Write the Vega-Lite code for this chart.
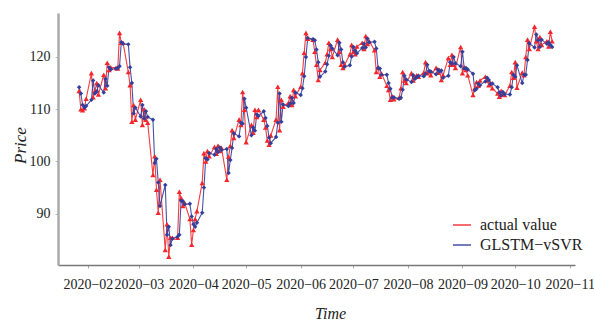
{
"$schema":"https://vega.github.io/schema/vega-lite/v6.json",
"width":517,"height":252,"autosize":"none",
"padding":{"left":58,"top":13,"right":19,"bottom":57},
"background":"white",
"config":{"view":{"stroke":null},"font":"Liberation Serif"},
"data":{"values":[
{"d":"2020-01-27","a":113.5,"p":114.2},{"d":"2020-01-28","a":110.0,"p":113.0},{"d":"2020-01-29","a":109.8,"p":110.8},{"d":"2020-01-30","a":110.2,"p":110.3},{"d":"2020-01-31","a":112.0,"p":110.6},
{"d":"2020-02-03","a":116.9,"p":111.8},{"d":"2020-02-04","a":112.3,"p":115.5},{"d":"2020-02-05","a":113.5,"p":113.0},{"d":"2020-02-06","a":115.0,"p":113.4},{"d":"2020-02-07","a":112.8,"p":114.6},
{"d":"2020-02-10","a":116.6,"p":113.2},{"d":"2020-02-11","a":114.0,"p":115.8},{"d":"2020-02-12","a":118.9,"p":114.5},{"d":"2020-02-13","a":117.5,"p":118.0},{"d":"2020-02-14","a":118.0,"p":117.6},
{"d":"2020-02-17","a":117.9,"p":117.8},{"d":"2020-02-18","a":117.8,"p":117.9},{"d":"2020-02-19","a":124.6,"p":118.2},{"d":"2020-02-20","a":122.7,"p":122.8},{"d":"2020-02-21","a":122.7,"p":122.5},
{"d":"2020-02-24","a":117.1,"p":122.4},{"d":"2020-02-25","a":114.6,"p":118.0},{"d":"2020-02-26","a":107.6,"p":115.0},{"d":"2020-02-27","a":110.8,"p":109.2},{"d":"2020-02-28","a":108.0,"p":110.3},
{"d":"2020-03-02","a":111.8,"p":108.6},{"d":"2020-03-03","a":107.0,"p":110.8},{"d":"2020-03-04","a":110.0,"p":108.2},{"d":"2020-03-05","a":108.0,"p":109.6},{"d":"2020-03-06","a":107.4,"p":108.5},
{"d":"2020-03-09","a":97.4,"p":108.0},{"d":"2020-03-10","a":101.0,"p":99.7},{"d":"2020-03-11","a":94.6,"p":100.5},{"d":"2020-03-12","a":90.2,"p":96.0},{"d":"2020-03-13","a":96.5,"p":91.5},
{"d":"2020-03-16","a":83.1,"p":95.5},{"d":"2020-03-17","a":88.0,"p":86.0},{"d":"2020-03-18","a":81.8,"p":87.5},{"d":"2020-03-19","a":85.4,"p":84.0},{"d":"2020-03-20","a":85.4,"p":85.2},
{"d":"2020-03-23","a":85.4,"p":85.6},{"d":"2020-03-24","a":94.2,"p":86.0},{"d":"2020-03-25","a":93.0,"p":92.5},{"d":"2020-03-26","a":91.5,"p":92.4},{"d":"2020-03-27","a":92.1,"p":91.8},
{"d":"2020-03-30","a":89.0,"p":91.9},{"d":"2020-03-31","a":84.1,"p":89.5},{"d":"2020-04-01","a":86.9,"p":88.0},{"d":"2020-04-02","a":89.0,"p":87.5},{"d":"2020-04-03","a":90.5,"p":88.3},
{"d":"2020-04-06","a":95.9,"p":90.2},{"d":"2020-04-07","a":101.6,"p":95.0},{"d":"2020-04-08","a":100.0,"p":100.6},{"d":"2020-04-09","a":102.0,"p":100.4},{"d":"2020-04-10","a":101.0,"p":101.6},
{"d":"2020-04-13","a":102.8,"p":101.3},{"d":"2020-04-14","a":101.5,"p":102.4},{"d":"2020-04-15","a":103.0,"p":101.8},{"d":"2020-04-16","a":102.0,"p":102.7},{"d":"2020-04-17","a":102.6,"p":102.2},
{"d":"2020-04-20","a":96.5,"p":102.4},{"d":"2020-04-21","a":100.9,"p":97.8},{"d":"2020-04-22","a":103.0,"p":100.3},{"d":"2020-04-23","a":106.0,"p":102.6},{"d":"2020-04-24","a":104.5,"p":105.4},
{"d":"2020-04-27","a":108.0,"p":104.8},{"d":"2020-04-28","a":107.0,"p":107.4},{"d":"2020-04-29","a":113.3,"p":107.2},{"d":"2020-04-30","a":109.9,"p":112.0},{"d":"2020-05-01","a":103.7,"p":110.3},
{"d":"2020-05-04","a":107.0,"p":105.0},{"d":"2020-05-05","a":105.5,"p":106.5},{"d":"2020-05-06","a":109.9,"p":105.9},{"d":"2020-05-07","a":108.5,"p":109.0},{"d":"2020-05-08","a":109.9,"p":108.7},
{"d":"2020-05-11","a":108.0,"p":109.6},{"d":"2020-05-12","a":106.5,"p":108.3},{"d":"2020-05-13","a":104.0,"p":106.8},{"d":"2020-05-14","a":103.2,"p":104.6},{"d":"2020-05-15","a":105.0,"p":103.5},
{"d":"2020-05-18","a":108.0,"p":104.7},{"d":"2020-05-19","a":114.3,"p":107.4},{"d":"2020-05-20","a":106.0,"p":113.0},{"d":"2020-05-21","a":111.8,"p":107.6},{"d":"2020-05-22","a":110.5,"p":110.9},
{"d":"2020-05-25","a":111.2,"p":110.6},{"d":"2020-05-26","a":112.5,"p":111.1},{"d":"2020-05-27","a":110.8,"p":112.2},{"d":"2020-05-28","a":113.7,"p":111.2},{"d":"2020-05-29","a":112.5,"p":113.2},
{"d":"2020-06-01","a":114.3,"p":112.7},{"d":"2020-06-02","a":116.9,"p":114.0},{"d":"2020-06-03","a":120.8,"p":116.3},{"d":"2020-06-04","a":124.6,"p":120.0},{"d":"2020-06-05","a":123.5,"p":123.6},
{"d":"2020-06-08","a":123.3,"p":123.4},{"d":"2020-06-09","a":121.0,"p":123.2},{"d":"2020-06-10","a":118.5,"p":121.4},{"d":"2020-06-11","a":115.6,"p":119.0},{"d":"2020-06-12","a":117.5,"p":116.2},
{"d":"2020-06-15","a":118.9,"p":117.2},{"d":"2020-06-16","a":120.5,"p":118.6},{"d":"2020-06-17","a":122.7,"p":120.2},{"d":"2020-06-18","a":121.5,"p":122.2},{"d":"2020-06-19","a":120.0,"p":121.6},
{"d":"2020-06-22","a":123.3,"p":120.3},{"d":"2020-06-23","a":121.0,"p":122.7},{"d":"2020-06-24","a":118.5,"p":121.4},{"d":"2020-06-25","a":117.9,"p":119.0},{"d":"2020-06-26","a":118.5,"p":118.1},
{"d":"2020-06-29","a":120.5,"p":118.4},{"d":"2020-06-30","a":122.3,"p":120.1},{"d":"2020-07-01","a":121.0,"p":121.9},{"d":"2020-07-02","a":120.5,"p":121.2},{"d":"2020-07-03","a":122.0,"p":120.7},
{"d":"2020-07-06","a":122.7,"p":121.7},{"d":"2020-07-07","a":121.5,"p":122.5},{"d":"2020-07-08","a":124.0,"p":121.8},{"d":"2020-07-09","a":122.5,"p":123.5},{"d":"2020-07-10","a":123.0,"p":122.8},
{"d":"2020-07-13","a":121.3,"p":122.9},{"d":"2020-07-14","a":117.1,"p":121.6},{"d":"2020-07-15","a":118.0,"p":117.9},{"d":"2020-07-16","a":116.2,"p":117.8},{"d":"2020-07-17","a":116.8,"p":116.6},
{"d":"2020-07-20","a":114.5,"p":116.6},{"d":"2020-07-21","a":113.7,"p":115.0},{"d":"2020-07-22","a":111.8,"p":113.9},{"d":"2020-07-23","a":112.5,"p":112.2},{"d":"2020-07-24","a":111.9,"p":112.3},
{"d":"2020-07-27","a":112.2,"p":112.0},{"d":"2020-07-28","a":114.0,"p":112.2},{"d":"2020-07-29","a":117.1,"p":113.7},{"d":"2020-07-30","a":115.5,"p":116.4},{"d":"2020-07-31","a":115.0,"p":115.7},
{"d":"2020-08-03","a":116.9,"p":115.2},{"d":"2020-08-04","a":115.5,"p":116.5},{"d":"2020-08-05","a":116.2,"p":115.8},{"d":"2020-08-06","a":116.5,"p":116.1},{"d":"2020-08-07","a":116.2,"p":116.4},
{"d":"2020-08-10","a":117.0,"p":116.3},{"d":"2020-08-11","a":119.0,"p":116.8},{"d":"2020-08-12","a":116.9,"p":118.5},{"d":"2020-08-13","a":117.2,"p":117.3},{"d":"2020-08-14","a":116.5,"p":117.2},
{"d":"2020-08-17","a":117.9,"p":116.7},{"d":"2020-08-18","a":117.0,"p":117.6},{"d":"2020-08-19","a":117.5,"p":117.2},{"d":"2020-08-20","a":115.6,"p":117.4},{"d":"2020-08-21","a":116.5,"p":116.0},
{"d":"2020-08-24","a":119.8,"p":116.4},{"d":"2020-08-25","a":118.5,"p":119.0},{"d":"2020-08-26","a":120.4,"p":118.7},{"d":"2020-08-27","a":118.5,"p":120.0},{"d":"2020-08-28","a":117.9,"p":118.8},
{"d":"2020-08-31","a":121.9,"p":118.2},{"d":"2020-09-01","a":116.9,"p":121.0},{"d":"2020-09-02","a":118.0,"p":117.8},{"d":"2020-09-03","a":117.5,"p":117.9},{"d":"2020-09-04","a":116.5,"p":117.6},
{"d":"2020-09-07","a":112.7,"p":116.8},{"d":"2020-09-08","a":114.0,"p":113.6},{"d":"2020-09-09","a":115.2,"p":113.9},{"d":"2020-09-10","a":114.5,"p":114.9},{"d":"2020-09-11","a":115.5,"p":114.6},
{"d":"2020-09-14","a":116.2,"p":115.3},{"d":"2020-09-15","a":115.5,"p":116.0},{"d":"2020-09-16","a":114.6,"p":115.6},{"d":"2020-09-17","a":115.0,"p":114.8},{"d":"2020-09-18","a":114.0,"p":114.9},
{"d":"2020-09-21","a":113.0,"p":114.2},{"d":"2020-09-22","a":112.4,"p":113.2},{"d":"2020-09-23","a":113.5,"p":112.6},{"d":"2020-09-24","a":112.8,"p":113.3},{"d":"2020-09-25","a":112.7,"p":112.9},
{"d":"2020-09-28","a":114.5,"p":112.8},{"d":"2020-09-29","a":117.1,"p":114.2},{"d":"2020-09-30","a":116.0,"p":116.6},{"d":"2020-10-01","a":119.0,"p":116.2},{"d":"2020-10-02","a":114.1,"p":118.4},
{"d":"2020-10-05","a":117.0,"p":115.0},{"d":"2020-10-06","a":116.5,"p":116.6},{"d":"2020-10-07","a":120.0,"p":116.6},{"d":"2020-10-08","a":123.3,"p":119.4},{"d":"2020-10-09","a":121.5,"p":122.6},
{"d":"2020-10-12","a":125.8,"p":121.8},{"d":"2020-10-13","a":123.0,"p":124.3},{"d":"2020-10-14","a":121.5,"p":123.2},{"d":"2020-10-15","a":123.8,"p":121.9},{"d":"2020-10-16","a":122.3,"p":123.3},
{"d":"2020-10-19","a":123.0,"p":122.5},{"d":"2020-10-20","a":122.0,"p":122.8},{"d":"2020-10-21","a":124.8,"p":122.3},{"d":"2020-10-22","a":123.0,"p":121.9}
]},
"transform":[{"fold":["a","p"],"as":["series","value"]}],
"encoding":{
"x":{"field":"d","type":"temporal","scale":{"domain":["2020-01-15","2020-11-04"]},
"axis":{"title":"Time","format":"%Y\u2212%m","tickCount":{"interval":"month","step":1},"labelOverlap":false,"grid":false,
"labelFont":"Liberation Serif","labelFontSize":14,"labelColor":"#222","labelPadding":9,"tickSize":3,"tickColor":"#aaa",
"domainColor":"#777","domainWidth":1.5,
"titleFont":"Liberation Serif","titleFontStyle":"italic","titleFontWeight":"normal","titleFontSize":16,"titleColor":"#222","titleX":272,"titleY":53,"titleBaseline":"alphabetic"}},
"y":{"field":"value","type":"quantitative","scale":{"domain":[80.2,128.4],"nice":false,"zero":false},
"axis":{"title":"Price","values":[90,100,110,120],"grid":false,
"labelFont":"Liberation Serif","labelFontSize":14,"labelColor":"#222","labelPadding":5,"tickSize":3,"tickColor":"#bbb",
"domainColor":"#aaa","domainWidth":2.5,
"titleFont":"Liberation Serif","titleFontStyle":"italic","titleFontWeight":"normal","titleFontSize":17,"titleColor":"#222","titleX":-33,"titleY":132,"titleBaseline":"alphabetic","titleAngle":-90}},
"color":{"field":"series","type":"nominal","scale":{"domain":["a","p"],"range":["#f2262b","#323f9c"]},
"legend":{"title":null,"orient":"none","legendX":394,"legendY":202,"padding":0,"symbolSize":324,"rowPadding":2,"labelOffset":8,
"labelFont":"Liberation Serif","labelFontSize":16,"labelColor":"#222","labelExpr":"datum.value === 'a' ? 'actual value' : 'GLSTM\u2212vSVR'",
"encode":{"symbols":{"update":{
"shape":{"signal":"datum.value === 'a' ? 'M-1,0H1M0,-0.45L0.38,0.22H-0.38Z' : 'M-1,0H1M0,-0.36L0.3,0L0,0.36L-0.3,0Z'"},
"fill":{"signal":"datum.value === 'a' ? '#f2262b' : '#323f9c'"},
"stroke":{"signal":"datum.value === 'a' ? '#f2262b' : '#323f9c'"},
"strokeWidth":{"value":1.3},"opacity":{"value":1},"fillOpacity":{"value":1},"strokeOpacity":{"value":1}}}}}}
},
"layer":[
{"mark":{"type":"line","strokeWidth":1.1,"opacity":0.9}},
{"transform":[{"filter":"datum.series === 'a'"}],"mark":{"type":"point","filled":true,"opacity":1,"shape":"triangle-up","size":28}},
{"transform":[{"filter":"datum.series === 'p'"}],"mark":{"type":"point","filled":true,"opacity":1,"shape":"diamond","size":20}}
]
}
